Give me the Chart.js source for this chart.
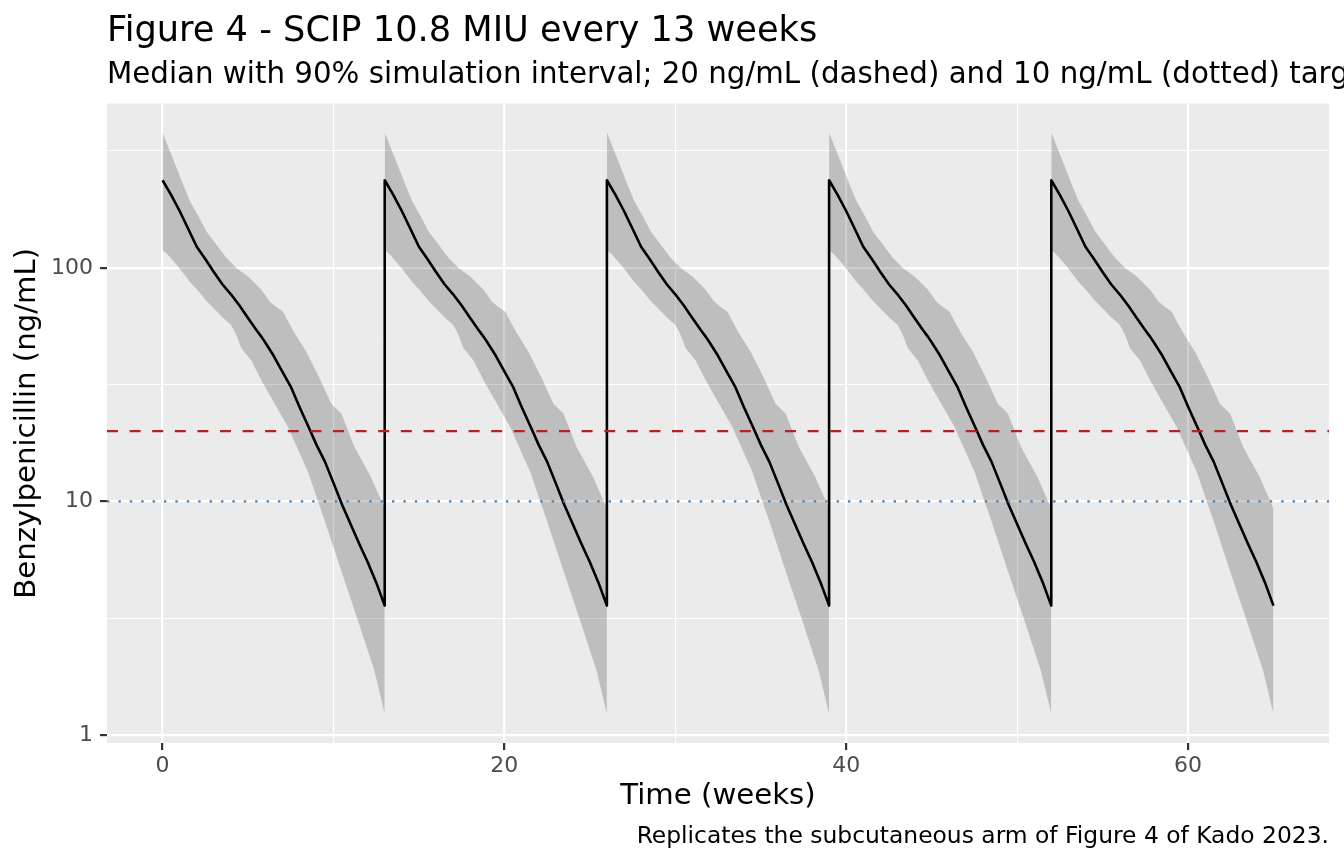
<!DOCTYPE html>
<html>
<head>
<meta charset="utf-8">
<script src="https://cdn.jsdelivr.net/npm/chart.js@4.4.1/dist/chart.umd.min.js"></script>
<style>
html, body { margin: 0; padding: 0; background: #fff; }
#wrap { width: 1344px; height: 864px; }
</style>
</head>
<body>
<div id="wrap"><canvas id="chart-pk" width="1344" height="864"></canvas></div>
<script>
// dosing times, weeks
const doseWeeks = [0, 13, 26, 39, 52]

// one dosing interval (weeks after each dose, ng/mL)
const medianWeeks = [0, 0.5, 1, 1.5, 2, 2.5, 3, 3.5, 4, 4.5, 5, 5.5, 5.8, 6, 6.5, 7, 7.5, 8, 8.65, 9, 9.5, 10, 10.5, 11, 11.5, 12, 12.5, 13]
const medianConc = [237, 205, 175, 147, 123, 109, 96, 85, 77, 69, 61, 54, 50.5, 48, 42, 36, 31, 25.5, 20, 17.5, 14.8, 12.0, 9.7, 8.0, 6.6, 5.5, 4.5, 3.58]

const upperWeeks = [0, 0.4, 0.82, 1.2, 1.6, 2.1, 2.57, 3.1, 3.74, 4.32, 5.0, 5.49, 5.78, 6.27, 6.6, 7.05, 7.4, 7.73, 8.41, 9.19, 9.87, 10.46, 11.23, 12.2, 12.88, 13]
const upperConc = [379, 320, 268, 227, 193, 166, 143, 127, 110, 99.7, 91.8, 84.5, 80.5, 71.7, 68.5, 64.9, 58, 52.5, 43.7, 33.7, 26.2, 23.8, 17.1, 12.7, 9.78, 9.3]

const lowerWeeks = [0, 0.3, 0.82, 1.2, 1.6, 2.0, 2.57, 3.0, 3.55, 4.0, 4.3, 4.61, 5.2, 5.78, 6.56, 7.34, 8.12, 8.51, 9.0, 9.48, 10.45, 11.43, 12.4, 13]
const lowerConc = [119, 114, 103, 95, 87, 81, 72, 67, 61, 57, 52, 45.2, 40, 33, 26.2, 20.8, 15.5, 13.4, 10.5, 8.3, 5.06, 3.09, 1.88, 1.23]

// target lines: 20 ng/mL dashed, 10 ng/mL dotted
const targetConc = [20, 10]

// axes
const xLimits = [-3.25, 68.25]
const yLimits = [0.924, 505]
const xTicks = [0, 20, 40, 60]
const xMinor = [10, 30, 50]
const yTicks = [1, 10, 100]
const yMinor = [3.162, 31.62, 316.2]

const font = '"DejaVu Sans", "Liberation Sans", sans-serif'

function cyclePoints(weeks, conc, start) {
	return weeks.map((w, i) => ({ x: start + w, y: conc[i] }))
}

let medianPts = []
doseWeeks.forEach(d => { medianPts = medianPts.concat(cyclePoints(medianWeeks, medianConc, d)) })

let datasets = [
	{
		data: [{ x: xLimits[0], y: targetConc[0] }, { x: xLimits[1], y: targetConc[0] }],
		borderColor: '#B22222',
		borderWidth: 2.2,
		borderDash: [11, 11.6],
		fill: false
	},
	{
		data: [{ x: xLimits[0], y: targetConc[1] }, { x: xLimits[1], y: targetConc[1] }],
		borderColor: '#4682B4',
		borderWidth: 2.4,
		borderDash: [2.4, 9],
		fill: false
	},
	{
		data: medianPts,
		borderColor: '#000000',
		borderWidth: 2.6,
		borderJoinStyle: 'round',
		fill: false
	}
]

// one ribbon per dosing interval so the vertical edges at each dose stay clean
doseWeeks.forEach(d => {
	datasets.push({
		data: cyclePoints(upperWeeks, upperConc, d),
		borderWidth: 0,
		borderColor: 'rgba(0,0,0,0)',
		backgroundColor: 'rgba(0,0,0,0.19)',
		fill: '+1'
	})
	datasets.push({
		data: cyclePoints(lowerWeeks, lowerConc, d),
		borderWidth: 0,
		borderColor: 'rgba(0,0,0,0)',
		fill: false
	})
})

const isMinor = (list, ctx) => ctx.tick && list.includes(ctx.tick.value)

const panel = {
	id: 'panel',
	beforeDraw(chart) {
		const { ctx, chartArea: a } = chart
		ctx.save()
		ctx.fillStyle = '#FFFFFF'
		ctx.fillRect(0, 0, chart.width, chart.height)
		ctx.fillStyle = '#EBEBEB'
		ctx.fillRect(a.left, a.top, a.right - a.left, a.bottom - a.top)
		ctx.restore()
	},
	afterDraw(chart) {
		const { ctx, chartArea: a } = chart
		ctx.save()
		ctx.fillStyle = '#000000'
		ctx.textBaseline = 'alphabetic'
		ctx.textAlign = 'left'
		ctx.font = '35.2px ' + font
		ctx.fillText('Figure 4 - SCIP 10.8 MIU every 13 weeks', a.left, 41)
		ctx.font = '29.3px ' + font
		ctx.fillText('Median with 90% simulation interval; 20 ng/mL (dashed) and 10 ng/mL (dotted) targets', a.left, 83)
		ctx.textAlign = 'right'
		ctx.font = '23.4px ' + font
		ctx.fillText('Replicates the subcutaneous arm of Figure 4 of Kado 2023.', a.right, 843)
		ctx.restore()
	}
}

const chartPk = new Chart(document.getElementById('chart-pk'), {
	type: 'line',
	data: { datasets: datasets },
	plugins: [panel],
	options: {
		responsive: false,
		animation: false,
		events: [],
		layout: {
			padding: { left: 0, top: 103.5, right: 15, bottom: 50 }
		},
		elements: {
			point: { radius: 0 },
			line: { tension: 0 }
		},
		plugins: {
			legend: { display: false },
			tooltip: { enabled: false }
		},
		scales: {
			x: {
				type: 'linear',
				min: xLimits[0],
				max: xLimits[1],
				afterBuildTicks: s => { s.ticks = xTicks.concat(xMinor).sort((a, b) => a - b).map(v => ({ value: v })) },
				afterFit: s => { s.height = 71 },
				ticks: {
					callback: v => xTicks.includes(v) ? String(v) : '',
					autoSkip: false,
					maxRotation: 0,
					padding: 3,
					color: '#4D4D4D',
					font: { family: font, size: 22 }
				},
				grid: {
					color: '#FFFFFF',
					lineWidth: ctx => isMinor(xMinor, ctx) ? 1.1 : 2.2,
					tickLength: 7,
					tickWidth: 2.2,
					tickColor: ctx => isMinor(xMinor, ctx) ? 'rgba(0,0,0,0)' : '#333333'
				},
				border: { display: false },
				title: {
					display: true,
					text: 'Time (weeks)',
					color: '#000000',
					padding: 0,
					font: { family: font, size: 29.2 }
				}
			},
			y: {
				type: 'logarithmic',
				min: yLimits[0],
				max: yLimits[1],
				afterBuildTicks: s => { s.ticks = yTicks.concat(yMinor).sort((a, b) => a - b).map(v => ({ value: v })) },
				afterFit: s => { s.width = 107 },
				ticks: {
					callback: v => yTicks.includes(v) ? String(v) : '',
					autoSkip: false,
					padding: 7,
					color: '#4D4D4D',
					font: { family: font, size: 22 }
				},
				grid: {
					color: '#FFFFFF',
					lineWidth: ctx => isMinor(yMinor, ctx) ? 1.1 : 2.2,
					tickLength: 7,
					tickWidth: 2.2,
					tickColor: ctx => isMinor(yMinor, ctx) ? 'rgba(0,0,0,0)' : '#333333'
				},
				border: { display: false },
				title: {
					display: true,
					text: 'Benzylpenicillin (ng/mL)',
					color: '#000000',
					padding: { top: 9.5, bottom: 0 },
					font: { family: font, size: 29.2 }
				}
			}
		}
	}
})
</script>
</body>
</html>
